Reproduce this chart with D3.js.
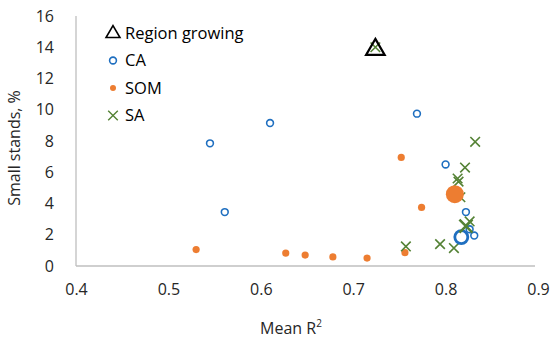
<!doctype html>
<html lang="en">
<head>
    <meta charset="UTF-8">
    <title>Small stands vs mean R2</title>
    <script src="https://cdn.jsdelivr.net/npm/d3@7"></script>
    <style>
        body{ margin:0; background:#fff; font-family: "Open Sans", sans-serif; }
        .axisLine{ stroke:#bfbfbf; stroke-width:1.3px; }
        .tick text{ fill:#262626; font-size:16px; }
    </style>
</head>
<body>
<svg width="550" height="342"></svg>
<script>
    // data
    const caX = [0.545, 0.610, 0.561, 0.769, 0.800, 0.822, 0.826, 0.831];
    const caY = [7.85, 9.15, 3.45, 9.75, 6.5, 3.45, 2.35, 1.95];
    const somX = [0.530, 0.627, 0.648, 0.678, 0.715, 0.752, 0.774, 0.756];
    const somY = [1.05, 0.83, 0.70, 0.58, 0.51, 6.95, 3.75, 0.85];
    const saX = [0.724, 0.832, 0.821, 0.813, 0.814, 0.816, 0.757, 0.794, 0.809, 0.826];
    const saY = [14.0, 7.95, 6.3, 5.6, 5.4, 4.4, 1.25, 1.4, 1.15, 2.85];
    // larger markers (overall values)
    const caBig = [0.817, 1.85];
    const somBig = [0.810, 4.6];
    const saBig = [0.822, 2.55];
    const regionGrowing = [0.724, 13.9];

    const xTicks = [0.4, 0.5, 0.6, 0.7, 0.8, 0.9];
    const yTicks = [0, 2, 4, 6, 8, 10, 12, 14, 16];

    const blue = "#1f6fc0", orange = "#ed7d31", green = "#548235";

    let svg = d3.select("svg");
    let x = d3.scaleLinear().domain([0.4, 0.9]).range([76, 538]);
    let y = d3.scaleLinear().domain([0, 16]).range([266, 16]);

    // axes
    svg.append("g").attr("transform", "translate(0,266)")
        .call(d3.axisBottom(x).tickValues(xTicks).tickSize(0).tickPadding(18).tickFormat(d3.format(".1f")))
        .call(g => g.select(".domain").remove());
    svg.append("g").attr("transform", "translate(76,0)")
        .call(d3.axisLeft(y).tickValues(yTicks).tickSize(0).tickPadding(22))
        .call(g => g.select(".domain").remove());
    svg.selectAll(".tick text").attr("font-family", "Open Sans");

    svg.append("line").attr("class", "axisLine")
        .attr("x1", x(0.4)).attr("x2", 535).attr("y1", y(0)).attr("y2", y(0));
    svg.append("line").attr("class", "axisLine")
        .attr("x1", x(0.4)).attr("x2", x(0.4)).attr("y1", y(0)).attr("y2", 16);

    // titles
    let xt = svg.append("text").attr("x", 291).attr("y", 334).attr("text-anchor", "middle")
        .attr("fill", "#262626").style("font-size", "16px").text("Mean R");
    xt.append("tspan").attr("dy", -7).style("font-size", "10px").text("2");
    svg.append("text").attr("transform", "translate(20,148) rotate(-90)").attr("text-anchor", "middle")
        .attr("fill", "#262626").style("font-size", "16px").text("Small stands, %");

    const xPath = (h) => `M${-h},${-h}L${h},${h}M${-h},${h}L${h},${-h}`;
    const triPath = (s) => `M0,${-s * 0.62}L${s * 0.58},${s * 0.38}L${-s * 0.58},${s * 0.38}Z`;

    // CA
    svg.append("g").selectAll("circle").data(d3.zip(caX, caY)).enter().append("circle")
        .attr("cx", d => x(d[0])).attr("cy", d => y(d[1])).attr("r", 3.4)
        .attr("fill", "none").attr("stroke", blue).attr("stroke-width", 1.6);
    // SOM
    svg.append("g").selectAll("circle").data(d3.zip(somX, somY)).enter().append("circle")
        .attr("cx", d => x(d[0])).attr("cy", d => y(d[1])).attr("r", 3.6)
        .attr("fill", orange);
    // SA
    svg.append("g").selectAll("path").data(d3.zip(saX, saY)).enter().append("path")
        .attr("transform", d => `translate(${x(d[0])},${y(d[1])})`).attr("d", xPath(4.8))
        .attr("fill", "none").attr("stroke", green).attr("stroke-width", 1.6);

    // big markers
    svg.append("circle").attr("cx", x(somBig[0])).attr("cy", y(somBig[1])).attr("r", 9)
        .attr("fill", orange);
    svg.append("circle").attr("cx", x(caBig[0])).attr("cy", y(caBig[1])).attr("r", 6.5)
        .attr("fill", "none").attr("stroke", blue).attr("stroke-width", 2.8);
    svg.append("path").attr("transform", `translate(${x(saBig[0])},${y(saBig[1])})`).attr("d", xPath(6.5))
        .attr("fill", "none").attr("stroke", green).attr("stroke-width", 2.6);
    svg.append("path").attr("transform", `translate(${x(regionGrowing[0])},${y(regionGrowing[1])})`)
        .attr("d", triPath(16)).attr("fill", "none").attr("stroke", "#000").attr("stroke-width", 2.2);

    // legend
    const legend = [
        {name: "Region growing", type: "tri"},
        {name: "CA", type: "ca"},
        {name: "SOM", type: "som"},
        {name: "SA", type: "sa"}
    ];
    let lg = svg.append("g").selectAll("g").data(legend).enter().append("g")
        .attr("transform", (d, i) => `translate(113,${33 + i * 27.5})`);
    lg.each(function (d) {
        let g = d3.select(this);
        if (d.type === "tri") g.append("path").attr("d", triPath(12)).attr("fill", "none").attr("stroke", "#000").attr("stroke-width", 1.6);
        if (d.type === "ca") g.append("circle").attr("r", 3.4).attr("fill", "none").attr("stroke", blue).attr("stroke-width", 1.6);
        if (d.type === "som") g.append("circle").attr("r", 3).attr("fill", orange);
        if (d.type === "sa") g.append("path").attr("d", xPath(4.8)).attr("fill", "none").attr("stroke", green).attr("stroke-width", 1.4);
    });
    lg.append("text").attr("x", 12).attr("dy", "0.35em").attr("fill", "#000")
        .style("font-size", "16.5px").text(d => d.name);
</script>
</body>
</html>
